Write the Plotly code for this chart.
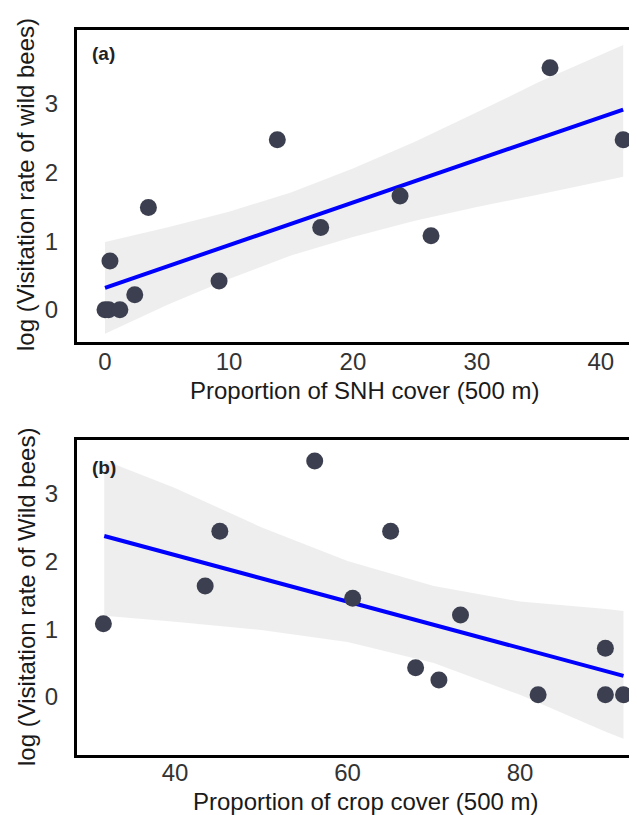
import plotly.graph_objects as go

# ---------------- data ----------------
# Panel (a): proportion of SNH cover vs log visitation rate
snh_cover = [0.0, 0.3, 1.2, 0.4, 2.4, 3.5, 9.2, 13.9, 17.4, 23.8, 26.3, 35.9, 41.8]
visits_a = [0.0, 0.0, 0.0, 0.71, 0.22, 1.49, 0.42, 2.48, 1.20, 1.66, 1.08, 3.53, 2.48]
fit_a_x = [0.0, 41.8]
fit_a_y = [0.32, 2.92]
band_a_x = [0, 5, 10, 15, 20, 25, 30, 35, 41.8]
band_a_lo = [-0.35, 0.07, 0.45, 0.79, 1.06, 1.30, 1.50, 1.68, 1.94]
band_a_hi = [0.99, 1.20, 1.43, 1.71, 2.06, 2.45, 2.88, 3.32, 3.86]

# Panel (b): proportion of crop cover vs log visitation rate
crop_cover = [31.7, 43.5, 45.2, 56.2, 60.6, 65.0, 67.9, 70.6, 73.1, 82.1, 89.9, 89.9, 92.0]
visits_b = [1.08, 1.64, 2.45, 3.49, 1.46, 2.45, 0.43, 0.25, 1.21, 0.03, 0.72, 0.03, 0.03]
fit_b_x = [31.8, 92.0]
fit_b_y = [2.38, 0.31]
band_b_x = [31.8, 40, 50, 60, 70, 80, 90, 92]
band_b_lo = [1.20, 1.11, 0.99, 0.81, 0.50, 0.03, -0.52, -0.62]
band_b_hi = [3.50, 3.09, 2.51, 2.01, 1.64, 1.41, 1.30, 1.27]

ticks_a_x = [0, 10, 20, 30, 40]
ticks_b_x = [40, 60, 80]
ticks_y = [0, 1, 2, 3]

xtitle_a = "Proportion of SNH cover (500 m)"
ytitle_a = "log (Visitation rate of wild bees)"
xtitle_b = "Proportion of crop cover (500 m)"
ytitle_b = "log (Visitation rate of Wild bees)"

# ---------------- styling ----------------
W, H = 637, 815
FONT = "Liberation Sans, Arial, sans-serif"
PT = "#3c3f4f"
LINE = "#0000ff"
BAND = "rgba(190,190,190,0.26)"


def px_x(p):
    return p / W


def px_y(p):
    return 1 - p / H


fig = go.Figure()


def add_panel(xs, ys, fx, fy, bx, blo, bhi, xa, ya):
    fig.add_trace(go.Scatter(
        x=list(bx) + list(bx)[::-1], y=list(bhi) + list(blo)[::-1],
        fill="toself", fillcolor=BAND, line=dict(width=0),
        mode="lines", hoverinfo="skip", showlegend=False, xaxis=xa, yaxis=ya))
    fig.add_trace(go.Scatter(
        x=fx, y=fy, mode="lines", line=dict(color=LINE, width=4),
        showlegend=False, xaxis=xa, yaxis=ya))
    fig.add_trace(go.Scatter(
        x=xs, y=ys, mode="markers",
        marker=dict(color=PT, size=17, line=dict(width=0)),
        showlegend=False, xaxis=xa, yaxis=ya))


add_panel(snh_cover, visits_a, fit_a_x, fit_a_y, band_a_x, band_a_lo, band_a_hi, "x", "y")
add_panel(crop_cover, visits_b, fit_b_x, fit_b_y, band_b_x, band_b_lo, band_b_hi, "x2", "y2")

axis_common = dict(
    showgrid=False, zeroline=False, showline=True, linecolor="black",
    linewidth=3, mirror=True, ticks="",
    tickfont=dict(family=FONT, size=24, color="#333333"),
)

fig.update_layout(
    width=W, height=H,
    margin=dict(l=0, r=0, t=0, b=0),
    paper_bgcolor="white", plot_bgcolor="white",
    showlegend=False,
    xaxis=dict(domain=[px_x(69), px_x(635)], range=[-2.26, 43.4],
               tickvals=ticks_a_x, anchor="y", ticklabelstandoff=-4, **axis_common),
    yaxis=dict(domain=[px_y(334), px_y(22)], range=[-0.47, 4.08],
               tickvals=ticks_y, anchor="x", ticklabelstandoff=11, **axis_common),
    xaxis2=dict(domain=[px_x(69), px_x(635)], range=[28.64, 94.26],
                tickvals=ticks_b_x, anchor="y2", ticklabelstandoff=-6, **axis_common),
    yaxis2=dict(domain=[px_y(747), px_y(432)], range=[-0.86, 3.80],
                tickvals=ticks_y, anchor="x2", ticklabelstandoff=11, **axis_common),
)

ann_font = dict(family=FONT, size=24, color="#1a1a1a")
annotations = [
    dict(text=xtitle_a, x=px_x(356), y=px_y(383), xref="paper", yref="paper",
         showarrow=False, xanchor="center", yanchor="middle", font=ann_font),
    dict(text=xtitle_b, x=px_x(357), y=px_y(793), xref="paper", yref="paper",
         showarrow=False, xanchor="center", yanchor="middle", font=ann_font),
    dict(text=ytitle_a, x=px_x(18), y=px_y(177), xref="paper", yref="paper",
         showarrow=False, xanchor="center", yanchor="middle", textangle=-90, font=ann_font),
    dict(text=ytitle_b, x=px_x(18), y=px_y(589), xref="paper", yref="paper",
         showarrow=False, xanchor="center", yanchor="middle", textangle=-90, font=ann_font),
    dict(text="<b>(a)</b>", x=px_x(82), y=px_y(45), xref="paper", yref="paper",
         showarrow=False, xanchor="left", yanchor="middle",
         font=dict(family=FONT, size=19, color="#222222")),
    dict(text="<b>(b)</b>", x=px_x(82), y=px_y(459), xref="paper", yref="paper",
         showarrow=False, xanchor="left", yanchor="middle",
         font=dict(family=FONT, size=19, color="#222222")),
]
fig.update_layout(annotations=annotations)

fig.write_html("out.html")
